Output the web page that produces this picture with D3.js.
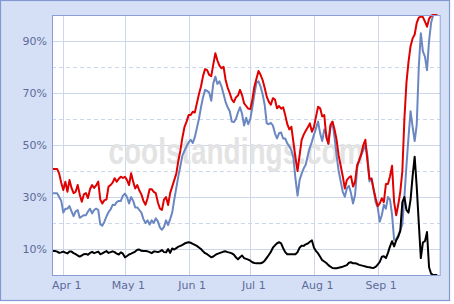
<!DOCTYPE html>
<html>
<head>
<meta charset="utf-8">
<script src="https://cdn.jsdelivr.net/npm/d3@7"></script>
<style>
  html, body { margin: 0; padding: 0; background: #ffffff; }
  svg { display: block; }
</style>
</head>
<body>
<div id="chart"></div>
<script>
// ---- data (daily, Mar 27 – Sep 30) ----
const seasonStart = Date.UTC(2008, 2, 27);
const seasonEnd = Date.UTC(2008, 9, 1);
const monthTicks = ["Apr 1", "May 1", "Jun 1", "Jul 1", "Aug 1", "Sep 1"];
const pctTicksLabeled = [10, 30, 50, 70, 90];
const pctTicksDashed = [20, 40, 60, 80];

const playoffOdds = [40.8,40.8,40.8,39,35.5,32.7,35.9,32,36.5,33.5,
31.5,32,34.6,31,28.2,31,31.5,29.6,33,34.6,
33.5,34.5,35.9,29,27.5,28.8,29,34,34.6,35.5,
37.2,35.9,37,37.8,37.3,37.8,36.5,34.6,39.1,35.9,
33.3,34.6,32.5,31,28.5,27,29.5,33,33,32,
31.5,28,25.6,25,29,30,26.9,31.5,34,36.5,
39,44,48,53,57,59,61.5,61.5,62.8,62.5,
66,69.5,72.5,76.5,79.2,78.8,77,76.5,81,85.3,
82.5,80.5,79.5,80.1,75,72,70,67.5,66.5,68.3,
69,71.2,69.2,66,65,64,63.8,67.5,72.5,75.5,
78.5,77,75,72,68.6,66.7,65.5,68,67.5,64.1,
65,64,64.5,61.5,58,56,57,51,45,40,
46,52,54,55.5,56.8,58.3,55.1,57,61,64.7,
64.1,61,61.5,53,50.5,57.7,59,56,52,46,
42,38,33.3,36.5,37.5,38,34,36,42.3,44,
46.5,50,52,44,37,37,33,29.5,26.5,27.5,
29.5,28,35,35,38,42,28,23,27,32,
40,60,74,82,88,91,92.5,97,99,99.4,
99.2,97.5,95.5,98.5,99.7,100,100,100];

const divisionOdds = [31.4,31.4,31.4,30,28.5,24,25.5,25.5,26.5,24.5,
22.6,24.5,25,22,22.5,23,23,24.4,25.5,23.7,
25,25.5,25,19.5,19,20.5,22.5,24.2,25.2,27,
26.9,28,28.5,28.5,30.5,31.3,30,27.5,30,28.5,
26,26,25,24,21.5,20,21,19.4,21,20,
21.8,20.7,18.3,17.4,18.5,21,19.2,21.5,24,29,
33.5,38,42,46,47.8,49.5,51,52,50.8,53,
56.5,60,64.5,68.3,71.2,70.8,70.2,67,73.7,76.3,
73.5,74.5,72.5,69.5,66.5,64.5,63,59,58.8,60,
62.5,64.5,62,57.5,60.5,58,60,64.5,69.5,74,
74.5,72.5,69.5,65.5,58.3,58,58.5,57.5,54.5,52.5,
54.5,54.8,52.5,52.5,50.6,49.5,48,45,37,30.5,
36.5,39,41,42.5,46,49,51.3,54,56.5,59,
54.5,51.5,56,54,50.5,56.5,58.8,53,46,40,
36,32,30.1,33.3,34.3,31.5,27.5,30.8,41,44.5,
46.2,48,50,46,36,37.2,33,28,26,20.5,
23,27,25.5,30,29,23.1,13.5,13.8,15.3,17.3,
19.5,30,42,53,63,57,51.5,57.7,80,93,
86,84,78.8,90,97,100,100,100];

const wildcardOdds = [9.2,9.2,9,8.5,8.7,9,8.6,8.3,9,9,
8.4,8,7.5,7.1,7.5,8,8.1,7.8,8.5,8.9,
8.4,8.7,9,8,8.3,8.8,9.2,8.5,8.8,9.1,
8.8,8.2,7.9,8.7,8.2,6.8,7.3,7.9,8.2,8.6,
9,9.7,9.8,9.3,9.2,9.2,9.1,8.8,8.4,9,
9,8.8,9.1,9.6,8.8,8.7,10,8.5,10.2,9.8,
10.3,10.9,11.2,11.6,12.1,12.4,12.6,12.4,12,11.6,
11.2,10.6,10,9.1,8.4,8,7.4,6.8,7.1,7.7,
8.1,8.4,8.7,9,9.1,8.8,8.6,8.3,7.8,6.8,
6,6.8,7.5,6.5,6.2,5.9,5.5,4.9,4.6,4.5,
4.5,4.5,4.8,5.5,6.6,7.7,8.9,10.5,11.4,12.2,
12.6,12.2,10.3,8.8,8,8,8,8,8,8.8,
10.5,11.3,11.2,11.8,12.1,12.8,13.3,10.5,9.2,8.3,
7,5.7,5.2,4.6,3.8,3.2,2.7,2.6,2.6,2.8,
3,3.2,3.5,3.8,4.7,4.9,4.5,4.5,4.3,3.9,
3.7,3.5,3.3,3.1,3,2.8,2.7,3.1,4,5,
7,7.2,6.5,8.5,11,13,11,13.3,14.7,17,
28,30,25,24,29,38,45.5,34,20,6.5,
12.5,13,16.5,3,0.5,0,0,0];

// ---- layout ----
const W = 454, H = 304;
const plot = { left: 52, right: 440.7, top: 15, bottom: 275 };
const dates = d3.utcDay.range(seasonStart, seasonEnd);

const svg = d3.select("#chart").append("svg")
  .attr("width", W).attr("height", H);

// outer frame
svg.append("rect").attr("x", 0.5).attr("y", 0.5).attr("width", 449).attr("height", 300)
  .attr("fill", "#d5e0f7").attr("stroke", "#8398d3").attr("stroke-width", 1.2);

// plot bg
svg.append("rect").attr("x", plot.left).attr("y", plot.top)
  .attr("width", plot.right - plot.left).attr("height", plot.bottom - plot.top)
  .attr("fill", "#ffffff");

const x = d3.scaleUtc()
  .domain([Date.UTC(2008, 2, 26, 12), Date.UTC(2008, 9, 1, 16)])
  .range([plot.left, plot.right]);
const y = d3.scaleLinear().domain([0, 100]).range([plot.bottom, plot.top]);

const monthDates = monthTicks.map((t, i) => new Date(Date.UTC(2008, 3 + i, 1)));
const gridColor = "#cdd7ea";

// gridlines
const g = svg.append("g");
g.selectAll("line.v").data(monthDates).join("line")
  .attr("x1", d => Math.round(x(d)) + 0.5).attr("x2", d => Math.round(x(d)) + 0.5)
  .attr("y1", plot.top).attr("y2", plot.bottom)
  .attr("stroke", gridColor).attr("stroke-width", 1);
g.selectAll("line.h").data(pctTicksLabeled).join("line")
  .attr("x1", plot.left).attr("x2", plot.right)
  .attr("y1", d => Math.round(y(d)) + 0.5).attr("y2", d => Math.round(y(d)) + 0.5)
  .attr("stroke", gridColor).attr("stroke-width", 1);
g.selectAll("line.hd").data(pctTicksDashed).join("line")
  .attr("x1", plot.left).attr("x2", plot.right)
  .attr("y1", d => Math.round(y(d)) + 0.5).attr("y2", d => Math.round(y(d)) + 0.5)
  .attr("stroke", gridColor).attr("stroke-width", 1).attr("stroke-dasharray", "4,3");

// watermark
svg.append("text")
  .attr("transform", "translate(236,164) scale(1,1.3)")
  .attr("text-anchor", "middle")
  .attr("font-family", "Liberation Sans, Arial, sans-serif")
  .attr("font-weight", "bold")
  .attr("font-size", 28)
  .attr("fill", "#e3e3e3")
  .text("coolstandings.com");

// lines
const line = d3.line().x((d, i) => x(dates[i])).y(d => y(d));
const series = [
  { values: divisionOdds, color: "#6b87c2" },
  { values: playoffOdds, color: "#e00000" },
  { values: wildcardOdds, color: "#000000" }
];
svg.append("g").selectAll("path").data(series).join("path")
  .attr("d", s => line(s.values))
  .attr("fill", "none")
  .attr("stroke", s => s.color)
  .attr("stroke-width", 2)
  .attr("stroke-linejoin", "round");

// plot border
svg.append("rect").attr("x", plot.left + 0.5).attr("y", plot.top + 0.5)
  .attr("width", plot.right - plot.left - 1).attr("height", plot.bottom - plot.top)
  .attr("fill", "none").attr("stroke", "#8a9dd6").attr("stroke-width", 1);

// axes labels
const axisY = d3.axisLeft(y).tickValues(pctTicksLabeled).tickFormat(d => d + "%").tickSize(0).tickPadding(5);
const gy = svg.append("g").attr("transform", `translate(${plot.left},0)`).call(axisY);
gy.select(".domain").remove();
gy.selectAll("text").attr("font-family", "DejaVu Sans, Verdana, sans-serif")
  .attr("font-size", 11).attr("fill", "#5d6b98");

const axisX = d3.axisBottom(x).tickValues(monthDates).tickFormat((d, i) => monthTicks[i]).tickSize(0).tickPadding(6);
const gx = svg.append("g").attr("transform", `translate(3,${plot.bottom})`).call(axisX);
gx.select(".domain").remove();
gx.selectAll("text").attr("font-family", "DejaVu Sans, Verdana, sans-serif")
  .attr("font-size", 11).attr("fill", "#5d6b98");
</script>
</body>
</html>
